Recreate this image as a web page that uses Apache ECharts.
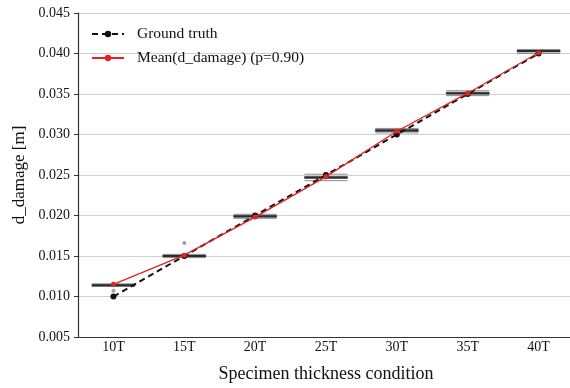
<!DOCTYPE html>
<html>
<head>
<meta charset="utf-8">
<script src="https://cdn.jsdelivr.net/npm/echarts@6/dist/echarts.min.js"></script>
<style>
  html, body { margin: 0; padding: 0; background: #fff; }
  #chart { width: 570px; height: 388px; }
</style>
</head>
<body>
<div id="chart"></div>
<script>
// categories and values
const categories = ['10T', '15T', '20T', '25T', '30T', '35T', '40T'];
const groundTruth = [0.010, 0.015, 0.020, 0.025, 0.030, 0.035, 0.040];
const meanDamage = [0.0115, 0.0151, 0.0198, 0.0248, 0.0304, 0.0351, 0.0401];
const medians = [0.0114, 0.0150, 0.0199, 0.0247, 0.0305, 0.0351, 0.0403];
const q1 = [0.01128, 0.01488, 0.01978, 0.02458, 0.03038, 0.03498, 0.04018];
const q3 = [0.01152, 0.01512, 0.02002, 0.02482, 0.03062, 0.03522, 0.04042];
const lowWhisker = [0.01125, 0.01480, 0.01965, 0.02430, 0.03020, 0.03480, 0.04000];
const highWhisker = [0.01155, 0.01520, 0.02015, 0.02510, 0.03075, 0.03540, 0.04050];
// outliers: [category index, value]
const outliers = [[0, 0.0107], [1, 0.0166]];
const yTicks = { min: 0.005, max: 0.045, step: 0.005 };

const serif = 'Liberation Serif';
const chart = echarts.init(document.getElementById('chart'));

const boxData = categories.map((_, i) => [lowWhisker[i], q1[i], medians[i], q3[i], highWhisker[i]]);

chart.setOption({
    animation: false,
    backgroundColor: '#fff',
    textStyle: { fontFamily: serif },
    grid: { left: 78, top: 13, width: 496, bottom: 51, outerBoundsMode: 'none', containLabel: false },
    legend: {
        data: ['Ground truth', 'Mean(d_damage) (p=0.90)'],
        orient: 'vertical',
        left: 86,
        top: 21,
        itemWidth: 32,
        itemHeight: 8,
        itemGap: 8,
        textStyle: { fontFamily: serif, fontSize: 15.5, color: '#111', padding: [0, 0, 0, 8] }
    },
    xAxis: {
        type: 'category',
        data: categories,
        name: 'Specimen thickness condition',
        nameLocation: 'middle',
        nameGap: 28,
        nameTextStyle: { fontFamily: serif, fontSize: 18, color: '#111' },
        axisLine: { lineStyle: { color: '#333', width: 1.2 } },
        axisTick: { alignWithLabel: true, length: 4, lineStyle: { color: '#333' } },
        axisLabel: { fontFamily: serif, fontSize: 14, color: '#111', margin: 3 },
        splitLine: { show: false }
    },
    yAxis: {
        type: 'value',
        min: yTicks.min,
        max: yTicks.max,
        interval: yTicks.step,
        name: 'd_damage [m]',
        nameLocation: 'middle',
        nameGap: 50,
        nameTextStyle: { fontFamily: serif, fontSize: 17, color: '#111' },
        axisLine: { show: true, lineStyle: { color: '#333', width: 1.2 } },
        axisTick: { show: true, length: 4, lineStyle: { color: '#333' } },
        axisLabel: { fontFamily: serif, fontSize: 14, color: '#111', margin: 8, formatter: v => v.toFixed(3) },
        splitLine: { show: true, lineStyle: { color: '#cfcfcf', width: 1 } }
    },
    series: [
        {
            name: 'box',
            type: 'boxplot',
            data: boxData,
            boxWidth: [43, 43],
            itemStyle: { color: '#c4c4c4', borderColor: '#8a8a8a', borderWidth: 1 },
            z: 2
        },
        {
            name: 'median',
            type: 'scatter',
            data: medians.map((v, i) => [i, v]),
            symbol: 'rect',
            symbolSize: [43, 2],
            itemStyle: { color: '#111' },
            z: 3
        },
        {
            name: 'outliers',
            type: 'scatter',
            data: outliers,
            symbolSize: 4,
            itemStyle: { color: '#888' },
            z: 3
        },
        {
            name: 'Ground truth',
            type: 'line',
            data: groundTruth.map((v, i) => [i, v]),
            symbol: 'circle',
            symbolSize: 6,
            lineStyle: { color: '#111', width: 2, type: [6, 4] },
            itemStyle: { color: '#111' },
            z: 4
        },
        {
            name: 'Mean(d_damage) (p=0.90)',
            type: 'line',
            data: meanDamage.map((v, i) => [i, v]),
            symbol: 'circle',
            symbolSize: 5,
            lineStyle: { color: '#e02424', width: 1.3 },
            itemStyle: { color: '#e02424' },
            z: 5
        }
    ]
});
</script>
</body>
</html>
